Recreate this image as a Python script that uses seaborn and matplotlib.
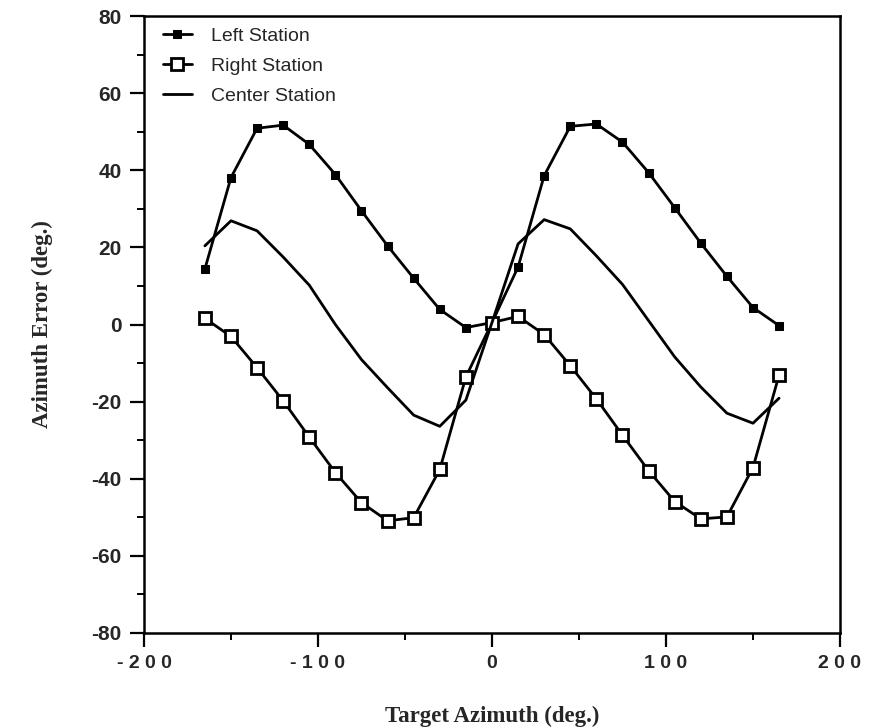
import numpy as np
import pandas as pd
import matplotlib
matplotlib.use("Agg")
import matplotlib.pyplot as plt
import seaborn as sns
from matplotlib.ticker import MultipleLocator, FixedLocator

azimuth = [-165, -150, -135, -120, -105, -90, -75, -60, -45, -30, -15, 0,
           15, 30, 45, 60, 75, 90, 105, 120, 135, 150, 165]

left_station = [14.4, 38.1, 50.9, 51.7, 46.7, 38.9, 29.5, 20.4, 12.0, 3.9, -0.8, 0.5,
                14.9, 38.6, 51.4, 52.0, 47.3, 39.4, 30.3, 21.1, 12.5, 4.4, -0.3]

right_station = [1.6, -3.1, -11.2, -19.8, -29.2, -38.4, -46.2, -50.9, -50.1, -37.6, -13.6, 0.5,
                 2.1, -2.6, -10.7, -19.3, -28.7, -37.9, -45.9, -50.4, -49.9, -37.1, -13.1]

center_station = [20.4, 26.9, 24.3, 17.5, 10.2, 0.0, -9.1, -16.4, -23.5, -26.4, -19.6, 0.5,
                  20.9, 27.2, 24.8, 17.8, 10.4, 1.0, -8.4, -16.2, -23.0, -25.6, -19.1]

series_names = ["Left Station", "Right Station", "Center Station"]
xtick_values = [-200, -100, 0, 100, 200]
ytick_values = [-80, -60, -40, -20, 0, 20, 40, 60, 80]

sns.set_style("ticks")
plt.rcParams["font.family"] = ["Liberation Sans", "DejaVu Sans"]

fig = plt.figure(figsize=(8.71, 7.28), dpi=100)
ax = fig.add_axes([0.1653, 0.1305, 0.7991, 0.8475])

lw = 2.0
sns.lineplot(x=azimuth, y=left_station, ax=ax, color="black", linewidth=lw,
             marker="s", markersize=5.5, markerfacecolor="black", markeredgecolor="black",
             label=series_names[0], sort=False)
sns.lineplot(x=azimuth, y=right_station, ax=ax, color="black", linewidth=lw,
             marker="s", markersize=8.5, markerfacecolor="white", markeredgecolor="black",
             markeredgewidth=2.0, label=series_names[1], sort=False)
sns.lineplot(x=azimuth, y=center_station, ax=ax, color="black", linewidth=lw,
             label=series_names[2], sort=False)

ax.set_xlim(-200, 200)
ax.set_ylim(-80, 80)
ax.xaxis.set_major_locator(FixedLocator(xtick_values))
ax.yaxis.set_major_locator(FixedLocator(ytick_values))
ax.xaxis.set_minor_locator(MultipleLocator(50))
ax.yaxis.set_minor_locator(MultipleLocator(10))
ax.set_xticklabels([" ".join(str(v)) for v in xtick_values])
ax.set_yticklabels([str(v) for v in ytick_values])

for lab in ax.get_xticklabels():
    lab.set_fontweight("bold")
    lab.set_fontsize(14)
for lab in ax.get_yticklabels():
    lab.set_fontweight("bold")
    lab.set_fontsize(15)

ax.tick_params(axis="both", which="major", direction="out", length=10, width=1.6,
               color="black", pad=6)
ax.tick_params(axis="both", which="minor", direction="out", length=5, width=1.4,
               color="black")
ax.tick_params(axis="x", which="major", pad=6)
for sp in ax.spines.values():
    sp.set_visible(True)
    sp.set_linewidth(1.8)
    sp.set_color("black")

ax.set_xlabel("Target Azimuth (deg.)", fontsize=16.5, fontweight="bold",
              family=["Liberation Serif", "DejaVu Serif"], labelpad=24)
ax.set_ylabel("Azimuth Error (deg.)", fontsize=16.5, fontweight="bold",
              family=["Liberation Serif", "DejaVu Serif"], labelpad=28)

leg = ax.legend(loc="upper left", frameon=False, fontsize=14, handlelength=1.5,
                handletextpad=1.0, labelspacing=0.62, borderaxespad=0.2,
                bbox_to_anchor=(0.01, 1.0))

fig.savefig("out.png", dpi=100, facecolor="white")
